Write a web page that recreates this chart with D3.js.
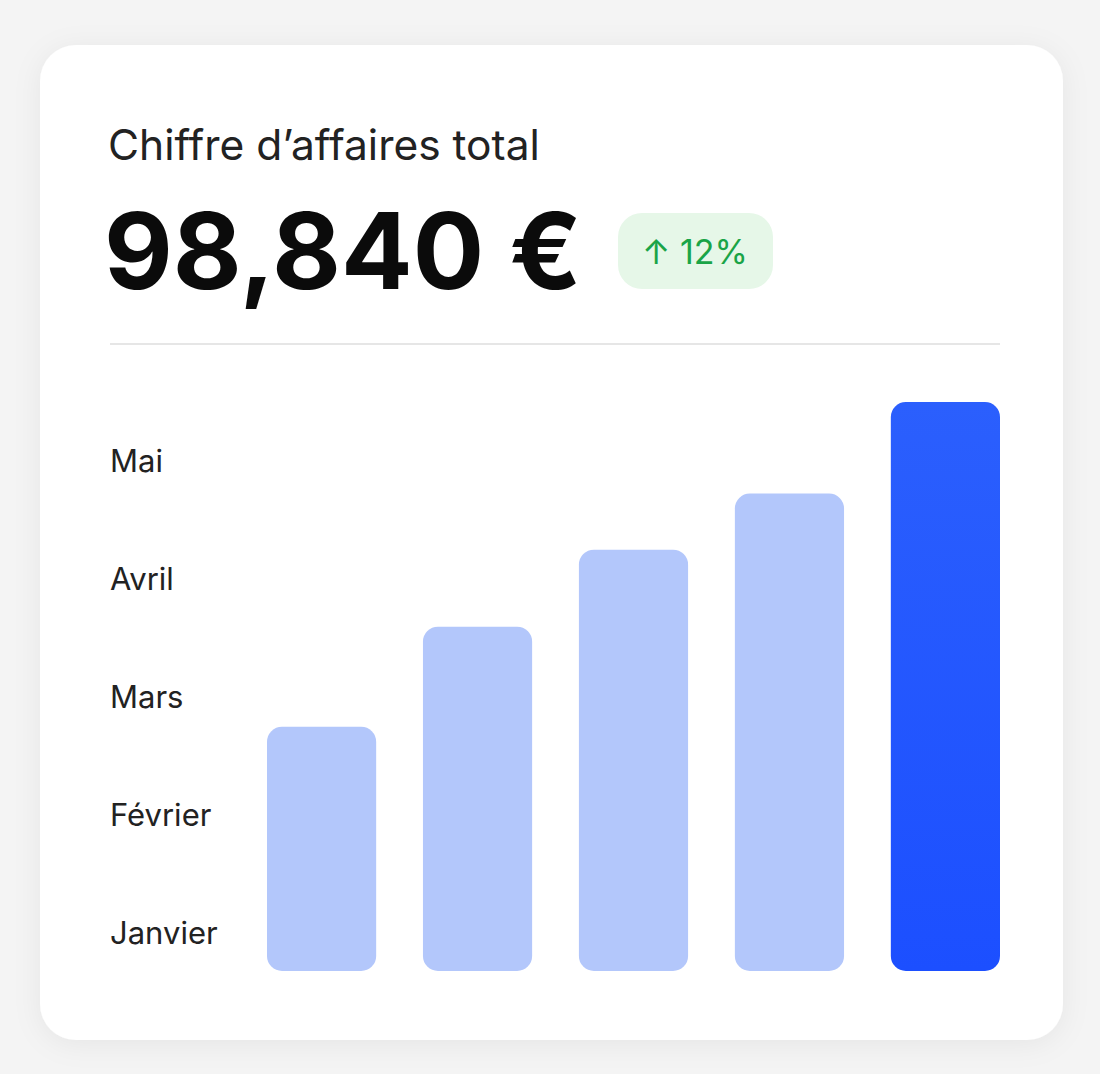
<!DOCTYPE html>
<html>
<head>
<meta charset="utf-8">
<title>Chiffre d'affaires total</title>
<script src="https://cdn.jsdelivr.net/npm/d3@7"></script>
<style>
  body { margin: 0; background: #f4f4f4; }
  svg { display: block; }
</style>
</head>
<body>
<script>
  // data
  var months = ["Janvier", "Février", "Mars", "Avril", "Mai"];
  var revenue = [11740, 16550, 20250, 22950, 27350];
  var totalLabel = "98,840 €";
  var changeLabel = "12%";

  var width = 1100, height = 1074;

  var svg = d3.select("body").append("svg")
    .attr("width", width)
    .attr("height", height);

  var defs = svg.append("defs");
  var shadow = defs.append("filter").attr("id", "shadow")
    .attr("x", "-10%").attr("y", "-10%").attr("width", "120%").attr("height", "120%");
  shadow.append("feDropShadow")
    .attr("dx", 0).attr("dy", 4).attr("stdDeviation", 14)
    .attr("flood-color", "#000").attr("flood-opacity", 0.06);

  var grad = defs.append("linearGradient").attr("id", "hot")
    .attr("x1", 0).attr("y1", 0).attr("x2", 0).attr("y2", 1);
  grad.append("stop").attr("offset", "0%").attr("stop-color", "#2b5ffd");
  grad.append("stop").attr("offset", "100%").attr("stop-color", "#1c4fff");

  // card
  svg.append("rect")
    .attr("x", 40).attr("y", 45)
    .attr("width", 1023).attr("height", 995)
    .attr("rx", 36)
    .attr("fill", "#fff")
    .attr("filter", "url(#shadow)");

  // header
  svg.append("text")
    .attr("x", 108).attr("y", 160)
    .style("font-family", "Inter, sans-serif")
    .style("font-size", "42.5px")
    .attr("fill", "#222")
    .text("Chiffre d’affaires total");

  svg.append("text")
    .attr("x", 104).attr("y", 289)
    .style("font-family", "Inter, sans-serif")
    .style("font-weight", 700)
    .style("font-size", "106px")
    .attr("fill", "#0b0b0b")
    .text(totalLabel);

  svg.append("rect")
    .attr("x", 618).attr("y", 213)
    .attr("width", 155).attr("height", 76)
    .attr("rx", 24)
    .attr("fill", "#e6f7e8");

  svg.append("text")
    .attr("x", 695).attr("y", 264)
    .attr("text-anchor", "middle")
    .style("font-family", "Inter, sans-serif")
    .style("font-size", "34px")
    .attr("fill", "#1aa447")
    .text("↑ " + changeLabel);

  svg.append("line")
    .attr("x1", 110).attr("x2", 1000)
    .attr("y1", 344).attr("y2", 344)
    .attr("stroke", "#e6e6e6")
    .attr("stroke-width", 2);

  // scales
  var x = d3.scaleBand().domain(months).range([267, 1000]).paddingInner(0.3).paddingOuter(0);
  var y = d3.scaleLinear().domain([0, d3.max(revenue)]).range([971, 402]);
  var yLabel = d3.scalePoint().domain(months).range([933, 461]);

  // month labels
  svg.append("g").selectAll("text")
    .data(months)
    .enter().append("text")
    .attr("x", 110)
    .attr("y", function (d) { return yLabel(d); })
    .attr("dy", "0.36em")
    .style("font-family", "Inter, sans-serif")
    .style("font-size", "31px")
    .attr("fill", "#222")
    .text(function (d) { return d; });

  // bars
  var last = months.length - 1;
  svg.append("g").selectAll("rect")
    .data(revenue)
    .enter().append("rect")
    .attr("x", function (d, i) { return x(months[i]); })
    .attr("y", function (d) { return y(d); })
    .attr("width", x.bandwidth())
    .attr("height", function (d) { return y(0) - y(d); })
    .attr("rx", 15)
    .attr("fill", function (d, i) { return i === last ? "url(#hot)" : "#b3c7fb"; });
</script>
</body>
</html>
